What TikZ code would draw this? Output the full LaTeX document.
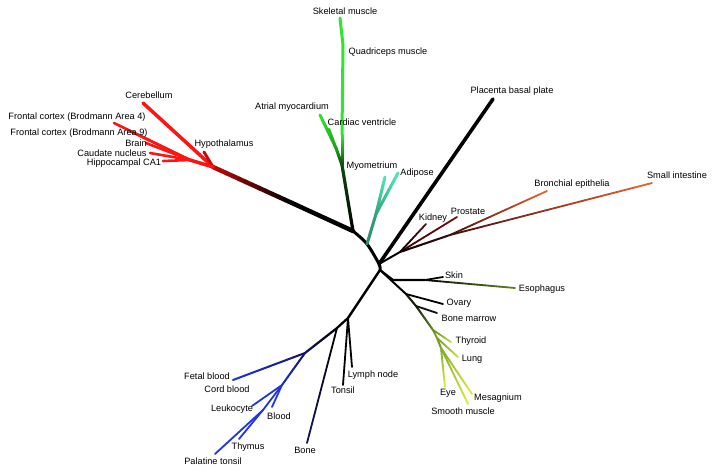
\documentclass[tikz,border=0pt]{standalone}
\usepackage{fontspec}
\setmainfont{Liberation Sans}
\usepackage{xcolor}
\usepackage{tikz}
\usetikzlibrary{calc}
\definecolor{brainred}{HTML}{FF1414}
\definecolor{stemred}{HTML}{C80A0A}
\definecolor{musclegreen}{HTML}{2EE62E}
\definecolor{heartgreen}{HTML}{22C822}
\definecolor{deepgreen}{HTML}{0A4A0A}
\definecolor{fatcyan}{HTML}{50E8B2}
\definecolor{deepcyan}{HTML}{0A3A28}
\definecolor{gutorange}{HTML}{EC6232}
\definecolor{gutbrown}{HTML}{5A1010}
\definecolor{oliveleaf}{HTML}{5E8420}
\definecolor{limeleaf}{HTML}{D4F040}
\definecolor{bloodblue}{HTML}{2234DC}
\definecolor{bonenavy}{HTML}{141460}
% gradient line: [width]{from}{to}{colour at start}{colour at end}
\newcommand\grad[5][2pt]{%
  \foreach \k in {1,...,12}{%
    \pgfmathsetmacro\fa{(\k-1)/12}%
    \pgfmathsetmacro\fb{\k/12}%
    \pgfmathtruncatemacro\pc{100-(\k-0.5)*100/12}%
    \draw[line width=#1,line cap=round,#4!\pc!#5] ($(#2)!\fa!(#3)$) -- ($(#2)!\fb!(#3)$);}}

\begin{document}
\begin{tikzpicture}[x=1pt,y=-1pt,
  tissue/.style={font=\fontsize{9.2}{11}\selectfont,inner sep=0pt},
  trunk/.style={line width=3pt,line cap=round,line join=round}]
  \useasboundingbox (0,0) rectangle (713,474);
  % junctions
  \coordinate (A) at (353,231);
  \coordinate (Ad) at (367,244);
  \coordinate (C1) at (379,264);
  \coordinate (C2) at (380,270);
  \coordinate (B0) at (213,167);
  \coordinate (B1) at (190,160);
  \coordinate (Bg) at (292,203);
  \coordinate (M) at (342,165);
  \coordinate (Mg) at (342,135);
  \coordinate (Mq) at (343,45);
  \coordinate (Mh) at (336,148);
  \coordinate (Fs) at (376,214);
  \coordinate (K1) at (400,252);
  \coordinate (K2) at (450,235);
  \coordinate (S0) at (393,280);
  \coordinate (S1) at (425,280);
  \coordinate (R1) at (406,294);
  \coordinate (R2) at (416,306);
  \coordinate (R3) at (433,330);
  \coordinate (R4) at (437,338);
  \coordinate (R5) at (441,348);
  \coordinate (L1) at (348,318);
  \coordinate (Bn) at (337,328);
  \coordinate (F) at (305,353);
  \coordinate (Bl) at (282,385);
  \coordinate (T) at (263,410);
  % tips
  \coordinate (tCereb) at (143,103);
  \coordinate (tFront4) at (114,123);
  \coordinate (tFront9) at (130,131);
  \coordinate (tBrain) at (146,143);
  \coordinate (tCaud) at (150,153);
  \coordinate (tHippo) at (163,161);
  \coordinate (tHypo) at (204,152);
  \coordinate (tSkel) at (340,18);
  \coordinate (tAtrial) at (320,115);
  \coordinate (tCard) at (329,129);
  \coordinate (tFat1) at (385,177);
  \coordinate (tFat2) at (398,173);
  \coordinate (tPlac) at (493,99);
  \coordinate (tKid) at (426,224);
  \coordinate (tPros) at (457,217);
  \coordinate (tBron) at (547,191);
  \coordinate (tInt) at (652,183);
  \coordinate (tSkin) at (443,277);
  \coordinate (tEso) at (515,288);
  \coordinate (tOva) at (443,304);
  \coordinate (tMarrow) at (437,313);
  \coordinate (tThyr) at (451,342);
  \coordinate (tLung) at (458,357);
  \coordinate (tEye) at (445,387);
  \coordinate (tSmooth) at (468,404);
  \coordinate (tMesa) at (472,394);
  \coordinate (tLymph) at (352,367);
  \coordinate (tTons) at (343,385);
  \coordinate (tBone) at (307,443);
  \coordinate (tFetal) at (233,380);
  \coordinate (tLeuko) at (252,406);
  \coordinate (tBlood) at (272,407);
  \coordinate (tThym) at (239,439);
  \coordinate (tPala) at (215,454);

  % backbone
  \draw[trunk] plot[smooth] coordinates {(A) (Ad) (C1) (C2)};
  \draw[trunk,line width=2.4pt] (C2) -- (L1);
  \grad[2.2pt]{L1}{Bn}{black}{black}
  \grad[2.2pt]{Bn}{F}{black}{bonenavy}

  % brain
  \draw[line width=4.5pt,line cap=round] (Bg) -- (A);
  \grad[4.5pt]{B0}{Bg}{stemred}{black}
  \draw[line width=3.5pt,brainred,line cap=round] (B0) -- (tCereb);
  \draw[line width=3pt,stemred,line cap=round] (B0) -- (tHypo);
  \draw[line width=3.5pt,brainred!90!stemred,line cap=round] (B0) -- (B1);
  \foreach \t in {tFront4,tFront9,tBrain,tCaud,tHippo}
    \draw[line width=2.6pt,brainred,line cap=round] (B1) -- (\t);

  % muscle
  \grad[3.2pt]{A}{M}{black}{deepgreen}
  \grad[3pt]{M}{Mg}{deepgreen}{musclegreen}
  \draw[line width=3pt,musclegreen,line cap=round] (Mg) -- (Mq) -- (tSkel);
  \grad[3pt]{M}{Mh}{deepgreen}{heartgreen!70!deepgreen}
  \grad[3pt]{Mh}{tAtrial}{heartgreen!70!deepgreen}{musclegreen}
  \grad[2.4pt]{Mh}{tCard}{heartgreen!70!deepgreen}{heartgreen}

  % adipose
  \grad[3pt]{Ad}{Fs}{black}{deepcyan!40!fatcyan}
  \grad[3pt]{Fs}{tFat1}{deepcyan!40!fatcyan}{fatcyan}
  \grad[3pt]{Fs}{tFat2}{deepcyan!40!fatcyan}{fatcyan}

  % placenta
  \draw[line width=3.6pt,line cap=round] (C1) -- (tPlac);

  % kidney, gut
  \draw[line width=2pt,line cap=round] (C1) -- (K1);
  \grad[1.8pt]{K1}{tKid}{black}{gutbrown}
  \grad[1.8pt]{K1}{tPros}{black}{gutbrown!80!red}
  \grad[2pt]{K1}{K2}{black}{gutbrown!70!black}
  \grad[1.8pt]{K2}{tBron}{gutbrown!70!black}{gutorange}
  \grad[1.8pt]{K2}{tInt}{gutbrown!70!black}{gutorange}

  % skin, oesophagus
  \draw[line width=2.2pt,line cap=round] (C2) -- (S0) -- (S1);
  \draw[line width=1.8pt,line cap=round] (S1) -- (tSkin);
  \grad[1.8pt]{S1}{tEso}{black}{oliveleaf}

  % lower right group
  \draw[line width=2pt,line cap=round] (C2) -- (R1);
  \grad[2pt]{R1}{R2}{black}{black!80!oliveleaf}
  \grad[2pt]{R2}{R3}{black!80!oliveleaf}{oliveleaf}
  \draw[line width=1.8pt,line cap=round] (R1) -- (tOva);
  \draw[line width=1.8pt,black!85!oliveleaf,line cap=round] (R2) -- (tMarrow);
  \draw[line width=2pt,oliveleaf!80!limeleaf,line cap=round] (R3) -- (R4) -- (R5);
  \grad[1.8pt]{R3}{tThyr}{oliveleaf}{limeleaf!80!oliveleaf}
  \grad[1.8pt]{R4}{tLung}{oliveleaf!80!limeleaf}{limeleaf!85!oliveleaf}
  \foreach \t in {tEye,tSmooth,tMesa}{
    \grad[1.8pt]{R5}{\t}{oliveleaf!70!limeleaf}{limeleaf}}

  % lymph, bone, blood
  \draw[line width=1.8pt,line cap=round] (L1) -- (tLymph);
  \draw[line width=1.8pt,line cap=round] (L1) -- (tTons);
  \grad[1.8pt]{Bn}{tBone}{black}{bonenavy}
  \grad[2pt]{F}{tFetal}{bonenavy}{bloodblue}
  \grad[2pt]{F}{Bl}{bonenavy}{bloodblue!80!bonenavy}
  \draw[line width=1.8pt,bloodblue,line cap=round] (Bl) -- (tLeuko);
  \draw[line width=1.8pt,bloodblue,line cap=round] (Bl) -- (tBlood);
  \draw[line width=1.8pt,bloodblue,line cap=round] (Bl) -- (T) -- (tPala);
  \draw[line width=1.8pt,bloodblue,line cap=round] (T) -- (tThym);

  % labels
  \node[tissue] (lSkel) at (345,11) {Skeletal muscle};
  \node[tissue] (lQuad) at (388,52) {Quadriceps muscle};
  \node[tissue] (lAtrial) at (292,107) {Atrial myocardium};
  \node[tissue] (lCard) at (362,122) {Cardiac ventricle};
  \node[tissue] (lMyo) at (372,166) {Myometrium};
  \node[tissue] (lFat) at (417,173) {Adipose};
  \node[tissue] (lPlac) at (512,91) {Placenta basal plate};
  \node[tissue] (lCereb) at (149,95) {Cerebellum};
  \node[tissue] (lFront4) at (77,117) {Frontal cortex (Brodmann Area 4)};
  \node[tissue] (lFront9) at (79,133) {Frontal cortex (Brodmann Area 9)};
  \node[tissue] (lBrain) at (136,143) {Brain};
  \node[tissue] (lCaud) at (112,153) {Caudate nucleus};
  \node[tissue] (lHippo) at (124,163) {Hippocampal CA1};
  \node[tissue] (lHypo) at (224,144) {Hypothalamus};
  \node[tissue] (lKid) at (433,218) {Kidney};
  \node[tissue] (lPros) at (468,211) {Prostate};
  \node[tissue] (lBron) at (572,184) {Bronchial epithelia};
  \node[tissue] (lInt) at (677,175) {Small intestine};
  \node[tissue] (lSkin) at (454,275) {Skin};
  \node[tissue] (lEso) at (542,289) {Esophagus};
  \node[tissue] (lOva) at (459,303) {Ovary};
  \node[tissue] (lMarrow) at (469,318) {Bone marrow};
  \node[tissue] (lThyr) at (471,341) {Thyroid};
  \node[tissue] (lLung) at (472,359) {Lung};
  \node[tissue] (lEye) at (448,393) {Eye};
  \node[tissue] (lMesa) at (498,398) {Mesagnium};
  \node[tissue] (lSmooth) at (463,411) {Smooth muscle};
  \node[tissue] (lLymph) at (373,375) {Lymph node};
  \node[tissue] (lTons) at (343,390) {Tonsil};
  \node[tissue] (lBone) at (305,450) {Bone};
  \node[tissue] (lFetal) at (207,376) {Fetal blood};
  \node[tissue] (lCord) at (227,389) {Cord blood};
  \node[tissue] (lLeuko) at (232,409) {Leukocyte};
  \node[tissue] (lBlood) at (279,416) {Blood};
  \node[tissue] (lThym) at (248,447) {Thymus};
  \node[tissue] (lPala) at (213,461) {Palatine tonsil};
\end{tikzpicture}
\end{document}
